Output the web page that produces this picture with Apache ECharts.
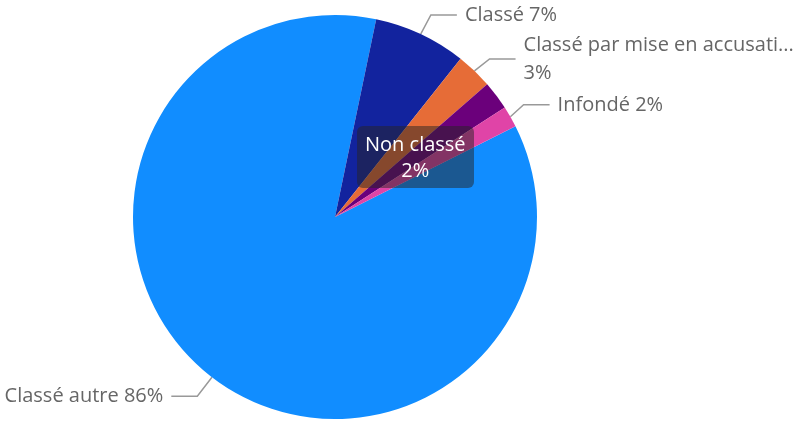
<!DOCTYPE html>
<html>
<head>
<meta charset="utf-8">
<script src="https://cdn.jsdelivr.net/npm/echarts@6/dist/echarts.min.js"></script>
<style>
  html, body { margin: 0; padding: 0; background: #fff; }
  #chart { width: 798px; height: 421px; }
</style>
</head>
<body>
<div id="chart"></div>
<script>
// catégories et parts (en %)
const categories = ["Classé autre", "Classé", "Classé par mise en accusation", "Non classé", "Infondé"];
const values = [85.6, 7.4, 2.9, 2.3, 1.7];
const colors = ["#118DFF", "#12239E", "#E66C37", "#6B007B", "#E044A7"];
const hiddenLabels = ["Non classé"];
const wrappedLabels = ["Classé par mise en accusation"];

const chart = echarts.init(document.getElementById("chart"));

const pieData = categories.map((name, i) => ({
  name: name,
  value: values[i],
  itemStyle: { color: colors[i] },
  label: { show: hiddenLabels.indexOf(name) < 0 },
  labelLine: { show: hiddenLabels.indexOf(name) < 0 },
}));

const option = {
  animation: false,
  tooltip: {
    trigger: "item",
    alwaysShowContent: true,
    transitionDuration: 0,
    position: [357, 126],
    backgroundColor: "rgba(37, 36, 35, 0.5)",
    borderWidth: 0,
    borderRadius: 6,
    padding: [5, 8],
    textStyle: { color: "#fff", fontSize: 20, fontFamily: "Open Sans" },
    extraCssText: "box-shadow:none; text-align:center; line-height:26px;",
    formatter: (p) => p.name + "<br/>" + Math.round(p.percent) + "%",
  },
  series: [
    {
      type: "pie",
      center: [335, 217],
      radius: 202,
      startAngle: 26.7,
      clockwise: true,
      percentPrecision: 0,
      itemStyle: { borderWidth: 0 },
      label: {
        color: "#666666",
        fontSize: 20,
        fontFamily: "Open Sans",
        lineHeight: 28,
        width: 278,
        overflow: "truncate",
        ellipsis: "...",
        distanceToLabelLine: 8,
        formatter: (p) =>
          wrappedLabels.indexOf(p.name) >= 0
            ? p.name + "\n" + p.percent + "%"
            : p.name + " " + p.percent + "%",
      },
      labelLine: {
        length: 24,
        length2: 26,
        lineStyle: { color: "#999999", width: 1.5 },
      },
      emphasis: { disabled: true },
      data: pieData,
    },
  ],
};

chart.setOption(option);
chart.dispatchAction({ type: "showTip", seriesIndex: 0, dataIndex: 3 });
</script>
</body>
</html>
